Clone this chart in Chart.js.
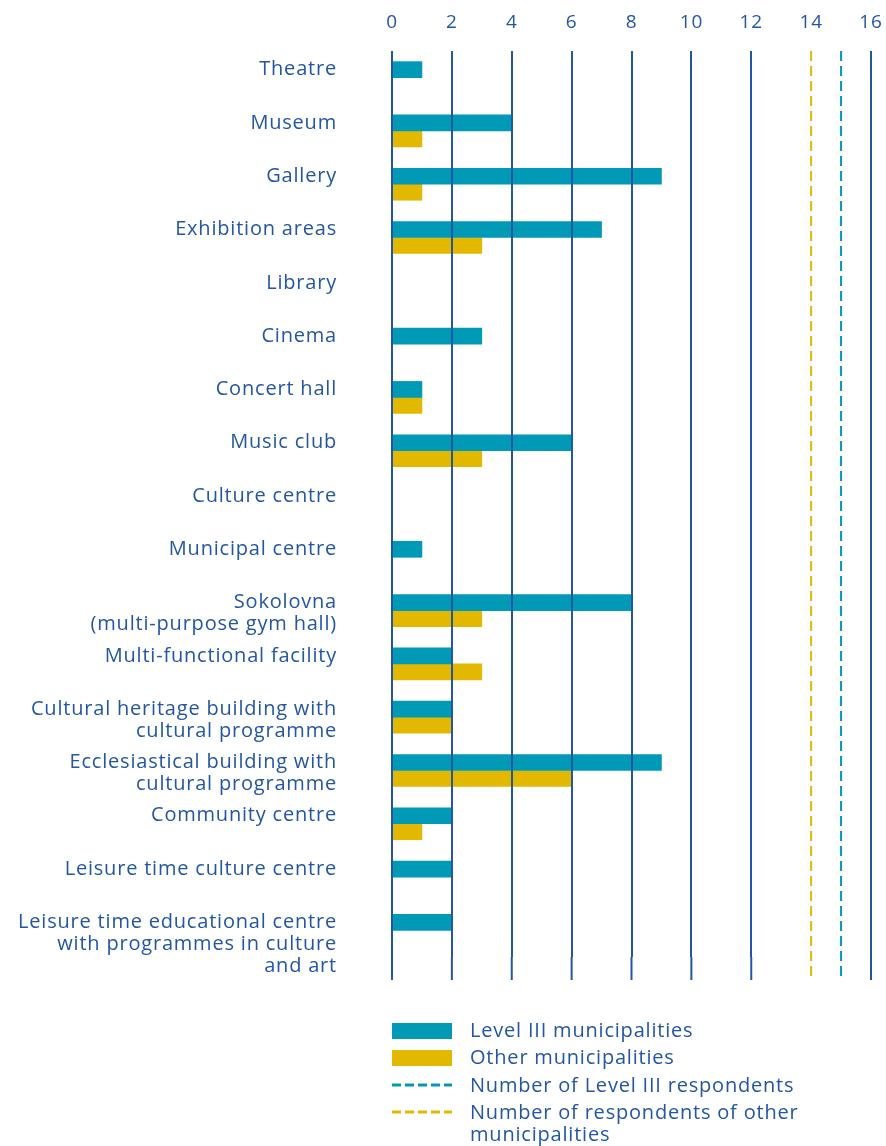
<!DOCTYPE html>
<html>
<head>
<meta charset="utf-8">
<script src="https://cdn.jsdelivr.net/npm/chart.js@4/dist/chart.umd.min.js"></script>
<style>
  html, body { margin: 0; padding: 0; background: #fff; }
</style>
</head>
<body>
<canvas id="myChart" width="886" height="1146"></canvas>
<script>
// Kategóriák (több soros címkék tömbként)
const categories = [
  ['Theatre'],
  ['Museum'],
  ['Gallery'],
  ['Exhibition areas'],
  ['Library'],
  ['Cinema'],
  ['Concert hall'],
  ['Music club'],
  ['Culture centre'],
  ['Municipal centre'],
  ['Sokolovna', '(multi-purpose gym hall)'],
  ['Multi-functional facility'],
  ['Cultural heritage building with', 'cultural programme'],
  ['Ecclesiastical building with', 'cultural programme'],
  ['Community centre'],
  ['Leisure time culture centre'],
  ['Leisure time educational centre', 'with programmes in culture', 'and art']
];

// Értékek
const level3Values = [1, 4, 9, 7, 0, 3, 1, 6, 0, 1, 8, 2, 2, 9, 2, 2, 2];
const otherValues  = [0, 1, 1, 3, 0, 0, 1, 3, 0, 0, 3, 3, 2, 6, 1, 0, 0];

// Válaszadók száma (szaggatott vonalak)
const level3Respondents = 15;
const otherRespondents = 14;

// Tengely
const xMin = 0;
const xMax = 16;
const xStep = 2;

const seriesLabels = [
  'Level III municipalities',
  'Other municipalities',
  'Number of Level III respondents',
  'Number of respondents of other municipalities'
];

const BLUE = '#2456a4';
const TEAL = '#009ab7';
const YELLOW = '#e2b900';
const FONT = '"Open Sans", sans-serif';
const FONT_SIZE = 20;
const SPACING = '0.8px';

// Betűköz beállítása minden szövegre
const spacingPlugin = {
  id: 'spacing',
  beforeDraw(chart) {
    chart.ctx.letterSpacing = SPACING;
  }
};

// Címkék, szaggatott vonalak és jelmagyarázat rajzolása
const extrasPlugin = {
  id: 'extras',
  afterDraw(chart) {
    const ctx = chart.ctx;
    const x = chart.scales.x;
    const y = chart.scales.y;
    const area = chart.chartArea;
    const lineBottom = area.bottom + 23;

    ctx.save();
    ctx.letterSpacing = SPACING;

    // Rácsvonalak meghosszabbítása
    ctx.strokeStyle = BLUE;
    ctx.lineWidth = 2;
    for (let v = xMin; v <= xMax; v += xStep) {
      if (v === otherRespondents || v === level3Respondents) continue;
      const px = x.getPixelForValue(v);
      ctx.beginPath();
      ctx.moveTo(px, area.bottom);
      ctx.lineTo(px, lineBottom);
      ctx.stroke();
    }

    // Szaggatott vonalak
    ctx.setLineDash([10, 5]);
    [[otherRespondents, YELLOW], [level3Respondents, TEAL]].forEach(([v, c]) => {
      const px = x.getPixelForValue(v);
      ctx.strokeStyle = c;
      ctx.beginPath();
      ctx.moveTo(px, area.top);
      ctx.lineTo(px, lineBottom);
      ctx.stroke();
    });
    ctx.setLineDash([]);

    // Kategória címkék
    ctx.fillStyle = BLUE;
    ctx.font = FONT_SIZE + 'px ' + FONT;
    ctx.textAlign = 'right';
    ctx.textBaseline = 'middle';
    categories.forEach((lines, i) => {
      const cy = y.getPixelForValue(i) - 8;
      lines.forEach((t, k) => ctx.fillText(t, 337, cy + k * 22));
    });

    // Jelmagyarázat
    const lx = x.getPixelForValue(0);
    const tx = lx + 78;
    ctx.textAlign = 'left';
    ctx.fillStyle = TEAL;
    ctx.fillRect(lx, 1023, 60, 16);
    ctx.fillStyle = YELLOW;
    ctx.fillRect(lx, 1050, 60, 16);
    ctx.lineWidth = 3;
    ctx.setLineDash([9, 4]);
    ctx.strokeStyle = TEAL;
    ctx.beginPath(); ctx.moveTo(lx, 1085); ctx.lineTo(lx + 60, 1085); ctx.stroke();
    ctx.strokeStyle = YELLOW;
    ctx.beginPath(); ctx.moveTo(lx, 1112); ctx.lineTo(lx + 60, 1112); ctx.stroke();
    ctx.setLineDash([]);

    ctx.fillStyle = BLUE;
    ctx.fillText(seriesLabels[0], tx, 1031);
    ctx.fillText(seriesLabels[1], tx, 1058);
    ctx.fillText(seriesLabels[2], tx, 1086);
    ctx.fillText('Number of respondents of other', tx, 1113);
    ctx.fillText('municipalities', tx, 1135);

    ctx.restore();
  }
};

const ctx = document.getElementById('myChart').getContext('2d');
const myChart = new Chart(ctx, {
  type: 'bar',
  data: {
    labels: categories.map(l => l.join(' ')),
    datasets: [
      {
        label: seriesLabels[0],
        data: level3Values,
        backgroundColor: TEAL,
        barThickness: 16,
        borderWidth: 0
      },
      {
        label: seriesLabels[1],
        data: otherValues,
        backgroundColor: YELLOW,
        barThickness: 16,
        borderWidth: 0
      }
    ]
  },
  options: {
    indexAxis: 'y',
    responsive: false,
    animation: false,
    layout: {
      padding: { left: 392, right: 15, top: -6, bottom: 189 }
    },
    scales: {
      x: {
        position: 'top',
        min: xMin,
        max: xMax,
        ticks: {
          stepSize: xStep,
          color: BLUE,
          padding: 0,
          font: { family: FONT, size: 19, lineHeight: 3 }
        },
        grid: {
          z: 1,
          lineWidth: 2,
          drawTicks: false,
          color: c => (c.tick && (c.tick.value === otherRespondents || c.tick.value === level3Respondents)) ? 'rgba(0,0,0,0)' : BLUE
        },
        border: { display: false }
      },
      y: {
        display: false
      }
    },
    plugins: {
      legend: { display: false },
      tooltip: { enabled: false }
    }
  },
  plugins: [spacingPlugin, extrasPlugin]
});
</script>
</body>
</html>
